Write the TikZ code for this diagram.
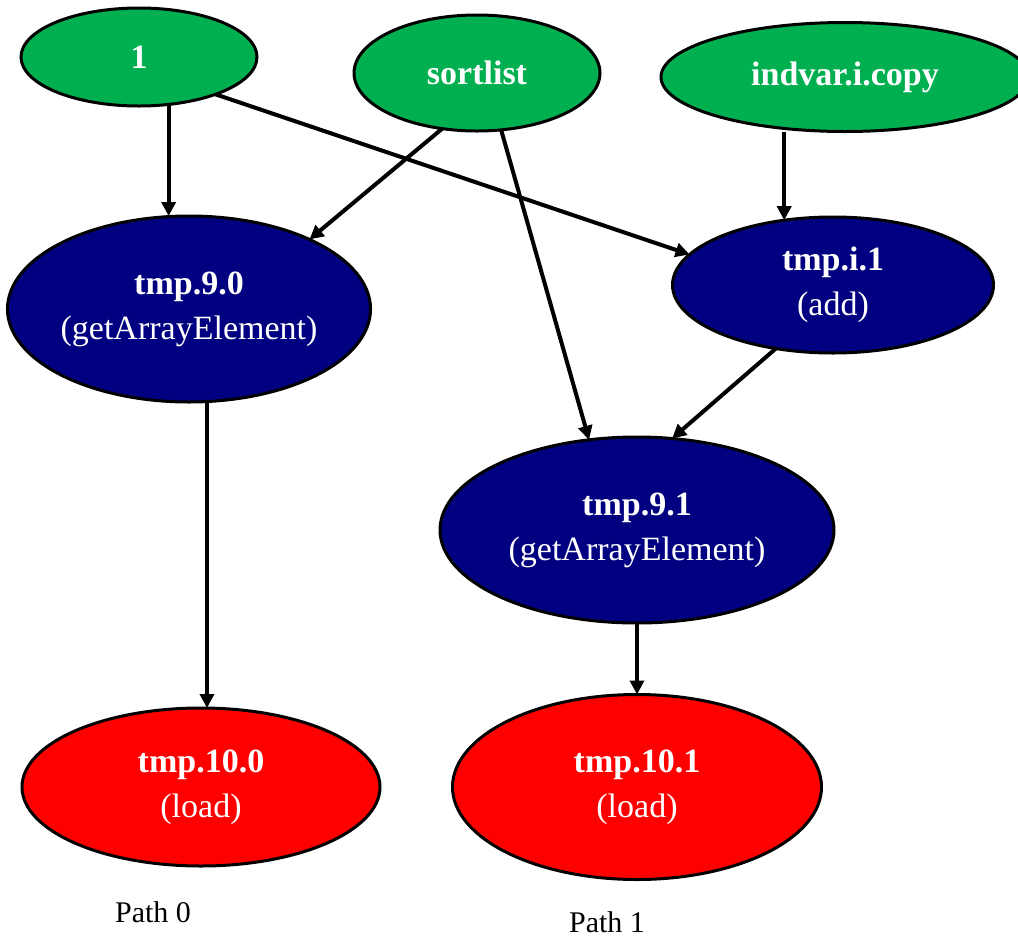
\documentclass[tikz,border=0pt]{standalone}
\usepackage{fontspec}
\setmainfont{Liberation Serif}
\usetikzlibrary{shapes.geometric,arrows.meta}
\definecolor{srcgreen}{HTML}{00B050}
\definecolor{opnavy}{HTML}{000080}
\definecolor{loadred}{HTML}{FF0000}
\begin{document}
\begin{tikzpicture}[x=1pt,y=-1pt,
  vnode/.style={ellipse, draw=black, line width=3pt, inner sep=0pt, outer sep=0pt,
    text=white, align=center, font=\fontsize{34}{45}\selectfont},
  srcnode/.style={vnode, fill=srcgreen, font=\fontsize{34}{40}\selectfont\bfseries},
  opnode/.style={vnode, fill=opnavy},
  loadnode/.style={vnode, fill=loadred},
  flow/.style={line width=4pt, -{Triangle[length=14pt,width=14pt]}},
  pathlabel/.style={font=\fontsize{30}{36}\selectfont, text=black}
]
\useasboundingbox (0,0) rectangle (1018,938);

% source values
\node[srcnode, minimum width=236pt, minimum height=98pt]  (one)      at (139,57)  {1};
\node[srcnode, minimum width=246pt, minimum height=116pt] (sortlist) at (477,73)  {sortlist};
\node[srcnode, minimum width=368pt, minimum height=109pt] (indvar)   at (845,77)  {indvar.i.copy};

% operations
\node[opnode, minimum width=358pt, minimum height=186pt] (t90) at (189,309) {\textbf{tmp.9.0}\\(getArrayElement)};
\node[opnode, minimum width=321pt, minimum height=136pt] (ti1) at (833,285) {\textbf{tmp.i.1}\\(add)};
\node[opnode, minimum width=394pt, minimum height=186pt] (t91) at (637,530) {\textbf{tmp.9.1}\\(getArrayElement)};

% loads
\node[loadnode, minimum width=358pt, minimum height=158pt] (t100) at (201,787) {\textbf{tmp.10.0}\\(load)};
\node[loadnode, minimum width=369pt, minimum height=185pt] (t101) at (637,787) {\textbf{tmp.10.1}\\(load)};

% data flow
\draw[flow] (one.-58) -- (one.-58 |- t90.north);
\draw[flow] (one.-26) -- (ti1.168);
\draw[flow] (sortlist.-122) -- (t90.30);
\draw[flow] (sortlist.-67) -- (t91.118);
\draw[flow] (ti1.127 |- indvar.south) -- (ti1.127);
\draw[flow] (ti1.-132) -- (t91.69);
\draw[flow] (t90.-79) -- (t90.-79 |- t100.north);
\draw[flow] (t91.south) -- (t101.north);

% path captions
\node[pathlabel] (path0) at (153,912) {Path 0};
\node[pathlabel] (path1) at (607,922) {Path 1};
\end{tikzpicture}
\end{document}
